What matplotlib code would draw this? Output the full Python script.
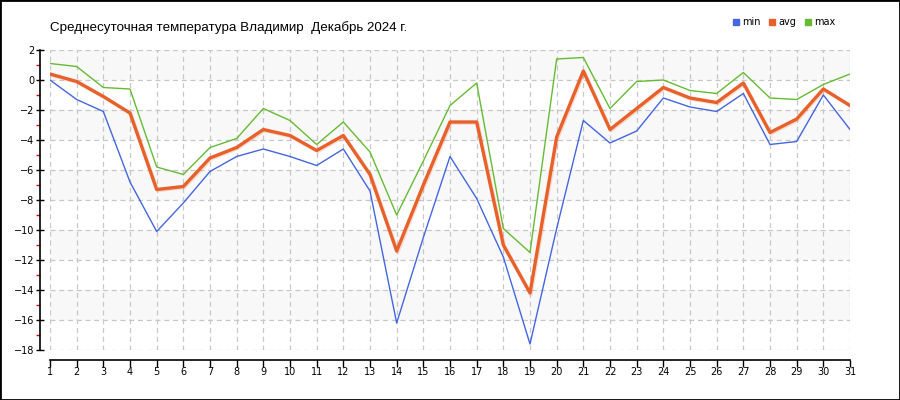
import matplotlib
matplotlib.use("Agg")
import matplotlib.pyplot as plt
import matplotlib.patheffects as pe
from matplotlib.lines import Line2D
from matplotlib.patches import Rectangle
from matplotlib.ticker import MultipleLocator

days = list(range(1, 32))
t_min = [0.0, -1.3, -2.1, -6.8, -10.1, -8.2, -6.1, -5.1, -4.6, -5.1, -5.7, -4.6, -7.4, -16.2, -10.5,
         -5.1, -7.9, -11.8, -17.6, -9.9, -2.7, -4.2, -3.4, -1.2, -1.8, -2.1, -0.9, -4.3, -4.1, -1.0, -3.3]
t_avg = [0.4, -0.1, -1.1, -2.2, -7.3, -7.1, -5.2, -4.5, -3.3, -3.7, -4.7, -3.7, -6.3, -11.4, -7.0,
         -2.8, -2.8, -11.0, -14.2, -3.8, 0.6, -3.3, -1.9, -0.5, -1.2, -1.5, -0.2, -3.5, -2.6, -0.6, -1.7]
t_max = [1.1, 0.9, -0.5, -0.6, -5.8, -6.3, -4.5, -3.9, -1.9, -2.7, -4.3, -2.8, -4.8, -9.0, -5.4,
         -1.7, -0.2, -9.9, -11.5, 1.4, 1.5, -1.9, -0.1, 0.0, -0.7, -0.9, 0.5, -1.2, -1.3, -0.3, 0.4]
title = "Среднесуточная температура Владимир  Декабрь 2024 г."
series_names = ["min", "avg", "max"]
series_colors = ["#4466e0", "#e8602a", "#66bb33"]

plt.rcParams['font.family'] = ['DejaVu Sans']
fig = plt.figure(figsize=(9, 4), dpi=100)
ax = fig.add_axes([50/900, 50/400, 800/900, 300/400])
ax.set_xlim(1, 31)
ax.set_ylim(-18, 2)

# alternating bands
for lo in range(-16, 2, 4):
    ax.axhspan(lo, lo + 2, color="#f8f8f8", zorder=0, lw=0)

ax.set_xticks(days)
ax.set_yticks(range(-18, 3, 2))
ax.yaxis.set_minor_locator(MultipleLocator(1))
ax.grid(True, which="major", color="#c8c8c8", linestyle=(0, (4, 3)), linewidth=0.9)
ax.set_axisbelow(True)

for s in ["top", "right"]:
    ax.spines[s].set_visible(False)
ax.spines["left"].set_position(("outward", 7.2))
ax.spines["bottom"].set_position(("outward", 7.2))
ax.spines["left"].set_linewidth(1.2)
ax.spines["bottom"].set_linewidth(1.2)

ax.tick_params(axis="y", which="major", direction="inout", length=6, width=1, labelsize=7, pad=1)
ax.tick_params(axis="y", which="minor", direction="out", length=3, width=1, color="#dd0000")
ax.tick_params(axis="x", which="major", direction="out", length=5, width=1, labelsize=7, pad=0)

ax.plot(days, t_min, color=series_colors[0], lw=1.0, zorder=3)
ax.plot(days, t_max, color=series_colors[2], lw=1.0, zorder=3)
ax.plot(days, t_avg, color=series_colors[1], lw=2.4, zorder=4,
        path_effects=[pe.SimpleLineShadow(offset=(0.8, -0.8), shadow_color="#e8602a", alpha=0.2),
                      pe.Normal()])

fig.text(50/900, 1 - 28/400, title, fontsize=9.6, va="center", ha="left",
         family=["Liberation Sans", "DejaVu Sans"])

handles = [Line2D([], [], marker="s", linestyle="none", markersize=5, color=c) for c in series_colors]
fig.legend(handles, series_names, loc="center right", bbox_to_anchor=(840/900, 1 - 22/400),
           ncol=3, frameon=False, fontsize=7, handlelength=0.7, handletextpad=0.3,
           columnspacing=0.8, borderpad=0)

fig.patches.append(Rectangle((0, 0), 1, 1, transform=fig.transFigure, fill=False,
                             edgecolor="black", lw=2, zorder=10))

fig.savefig("out.png", dpi=100)
